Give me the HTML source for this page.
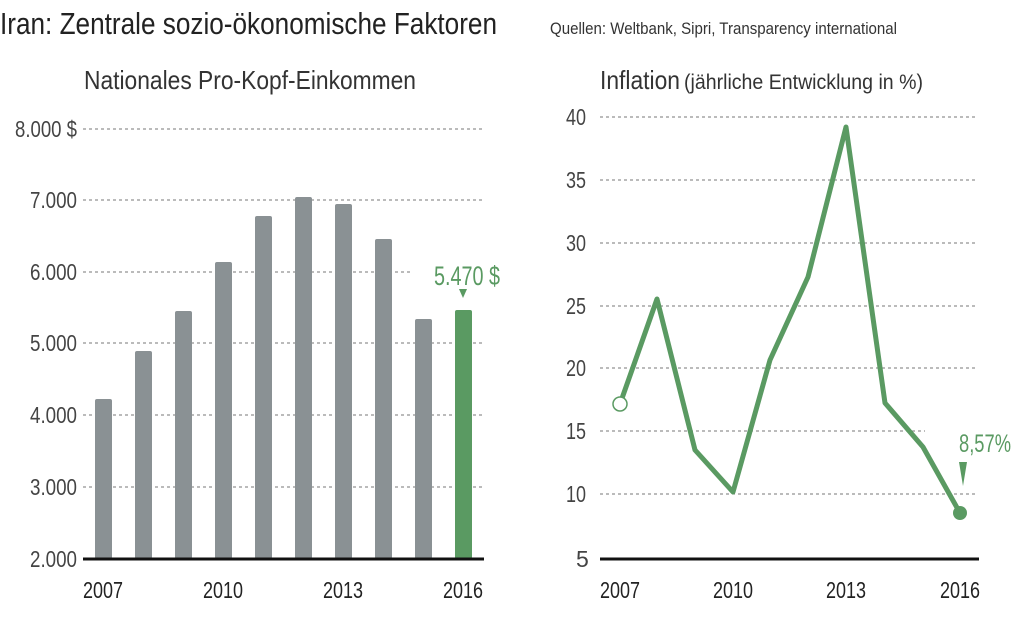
<!DOCTYPE html>
<html><head><meta charset="utf-8"><style>
body{margin:0;background:#fff;width:1024px;height:628px;overflow:hidden}
svg{display:block}
text{font-family:"Liberation Sans",sans-serif}
</style></head><body>
<svg width="1024" height="628" viewBox="0 0 1024 628">
<g fill="#333">
<text x="0" y="34" font-size="31" textLength="497" lengthAdjust="spacingAndGlyphs" fill="#222">Iran: Zentrale sozio-ökonomische Faktoren</text>
<text x="550" y="34" font-size="17" textLength="347" lengthAdjust="spacingAndGlyphs">Quellen: Weltbank, Sipri, Transparency international</text>
<text x="84" y="89" font-size="26" textLength="332" lengthAdjust="spacingAndGlyphs">Nationales Pro-Kopf-Einkommen</text>
<text x="600" y="89" font-size="26" textLength="80" lengthAdjust="spacingAndGlyphs">Inflation</text>
<text x="684" y="89" font-size="21" textLength="239" lengthAdjust="spacingAndGlyphs">(jährliche Entwicklung in %)</text>
</g>
<g stroke="#777" stroke-width="1" stroke-dasharray="3,3">
<line x1="83" y1="129" x2="484" y2="129"/><line x1="83" y1="200" x2="484" y2="200"/><line x1="83" y1="272" x2="410" y2="272"/><line x1="83" y1="343" x2="484" y2="343"/><line x1="83" y1="415" x2="484" y2="415"/><line x1="83" y1="487" x2="484" y2="487"/>
<line x1="600" y1="117" x2="978" y2="117"/><line x1="600" y1="180" x2="978" y2="180"/><line x1="600" y1="243" x2="978" y2="243"/><line x1="600" y1="306" x2="978" y2="306"/><line x1="600" y1="368" x2="978" y2="368"/><line x1="600" y1="431" x2="925" y2="431"/><line x1="600" y1="494" x2="978" y2="494"/>
</g>
<g font-size="23" fill="#444">
<text x="15" y="137" textLength="62" lengthAdjust="spacingAndGlyphs">8.000 $</text>
<text x="30" y="208" textLength="47" lengthAdjust="spacingAndGlyphs">7.000</text>
<text x="30" y="280" textLength="47" lengthAdjust="spacingAndGlyphs">6.000</text>
<text x="30" y="351" textLength="47" lengthAdjust="spacingAndGlyphs">5.000</text>
<text x="30" y="423" textLength="47" lengthAdjust="spacingAndGlyphs">4.000</text>
<text x="30" y="495" textLength="47" lengthAdjust="spacingAndGlyphs">3.000</text>
<text x="30" y="567" textLength="47" lengthAdjust="spacingAndGlyphs">2.000</text>
<text x="566" y="125" textLength="20" lengthAdjust="spacingAndGlyphs">40</text><text x="566" y="188" textLength="20" lengthAdjust="spacingAndGlyphs">35</text><text x="566" y="251" textLength="20" lengthAdjust="spacingAndGlyphs">30</text><text x="566" y="314" textLength="20" lengthAdjust="spacingAndGlyphs">25</text><text x="566" y="376" textLength="20" lengthAdjust="spacingAndGlyphs">20</text><text x="566" y="439" textLength="20" lengthAdjust="spacingAndGlyphs">15</text><text x="566" y="502" textLength="20" lengthAdjust="spacingAndGlyphs">10</text><text x="576" y="567">5</text>
</g>
<g font-size="23" fill="#222">
<text x="83" y="598" textLength="40" lengthAdjust="spacingAndGlyphs">2007</text><text x="203" y="598" textLength="40" lengthAdjust="spacingAndGlyphs">2010</text><text x="323" y="598" textLength="40" lengthAdjust="spacingAndGlyphs">2013</text><text x="443" y="598" textLength="40" lengthAdjust="spacingAndGlyphs">2016</text>
<text x="600" y="598" textLength="40" lengthAdjust="spacingAndGlyphs">2007</text><text x="713" y="598" textLength="40" lengthAdjust="spacingAndGlyphs">2010</text><text x="826" y="598" textLength="40" lengthAdjust="spacingAndGlyphs">2013</text><text x="940" y="598" textLength="40" lengthAdjust="spacingAndGlyphs">2016</text>
</g>
<g fill="#8a9194">
<rect x="95" y="399" width="17" height="160" rx="2"/>
<rect x="135" y="351" width="17" height="208" rx="2"/>
<rect x="175" y="311" width="17" height="248" rx="2"/>
<rect x="215" y="262" width="17" height="297" rx="2"/>
<rect x="255" y="216" width="17" height="343" rx="2"/>
<rect x="295" y="197" width="17" height="362" rx="2"/>
<rect x="335" y="204" width="17" height="355" rx="2"/>
<rect x="375" y="239" width="17" height="320" rx="2"/>
<rect x="415" y="319" width="17" height="240" rx="2"/>
</g>
<rect x="455" y="310" width="17" height="249" rx="2" fill="#5a9a62"/>
<line x1="83" y1="559" x2="484" y2="559" stroke="#111" stroke-width="3"/>
<line x1="600" y1="559" x2="979" y2="559" stroke="#111" stroke-width="3"/>
<text x="434" y="285" font-size="27" fill="#5a9a62" textLength="66" lengthAdjust="spacingAndGlyphs">5.470 $</text>
<polygon points="459,289 467,289 463,298" fill="#5a9a62"/>
<polyline points="620,404 657,299 695,450 733,492 770,360 808,277 846,127 885,403 923,447 960,513" fill="none" stroke="#5a9a62" stroke-width="5" stroke-linejoin="round"/>
<circle cx="620" cy="404" r="7" fill="#fff" stroke="#5a9a62" stroke-width="1.5"/>
<circle cx="960" cy="513" r="7" fill="#5a9a62"/>
<text x="959" y="452" font-size="25" fill="#5a9a62" textLength="52" lengthAdjust="spacingAndGlyphs">8,57%</text>
<polygon points="959,462 967,462 963,486" fill="#5a9a62"/>
</svg>
</body></html>
